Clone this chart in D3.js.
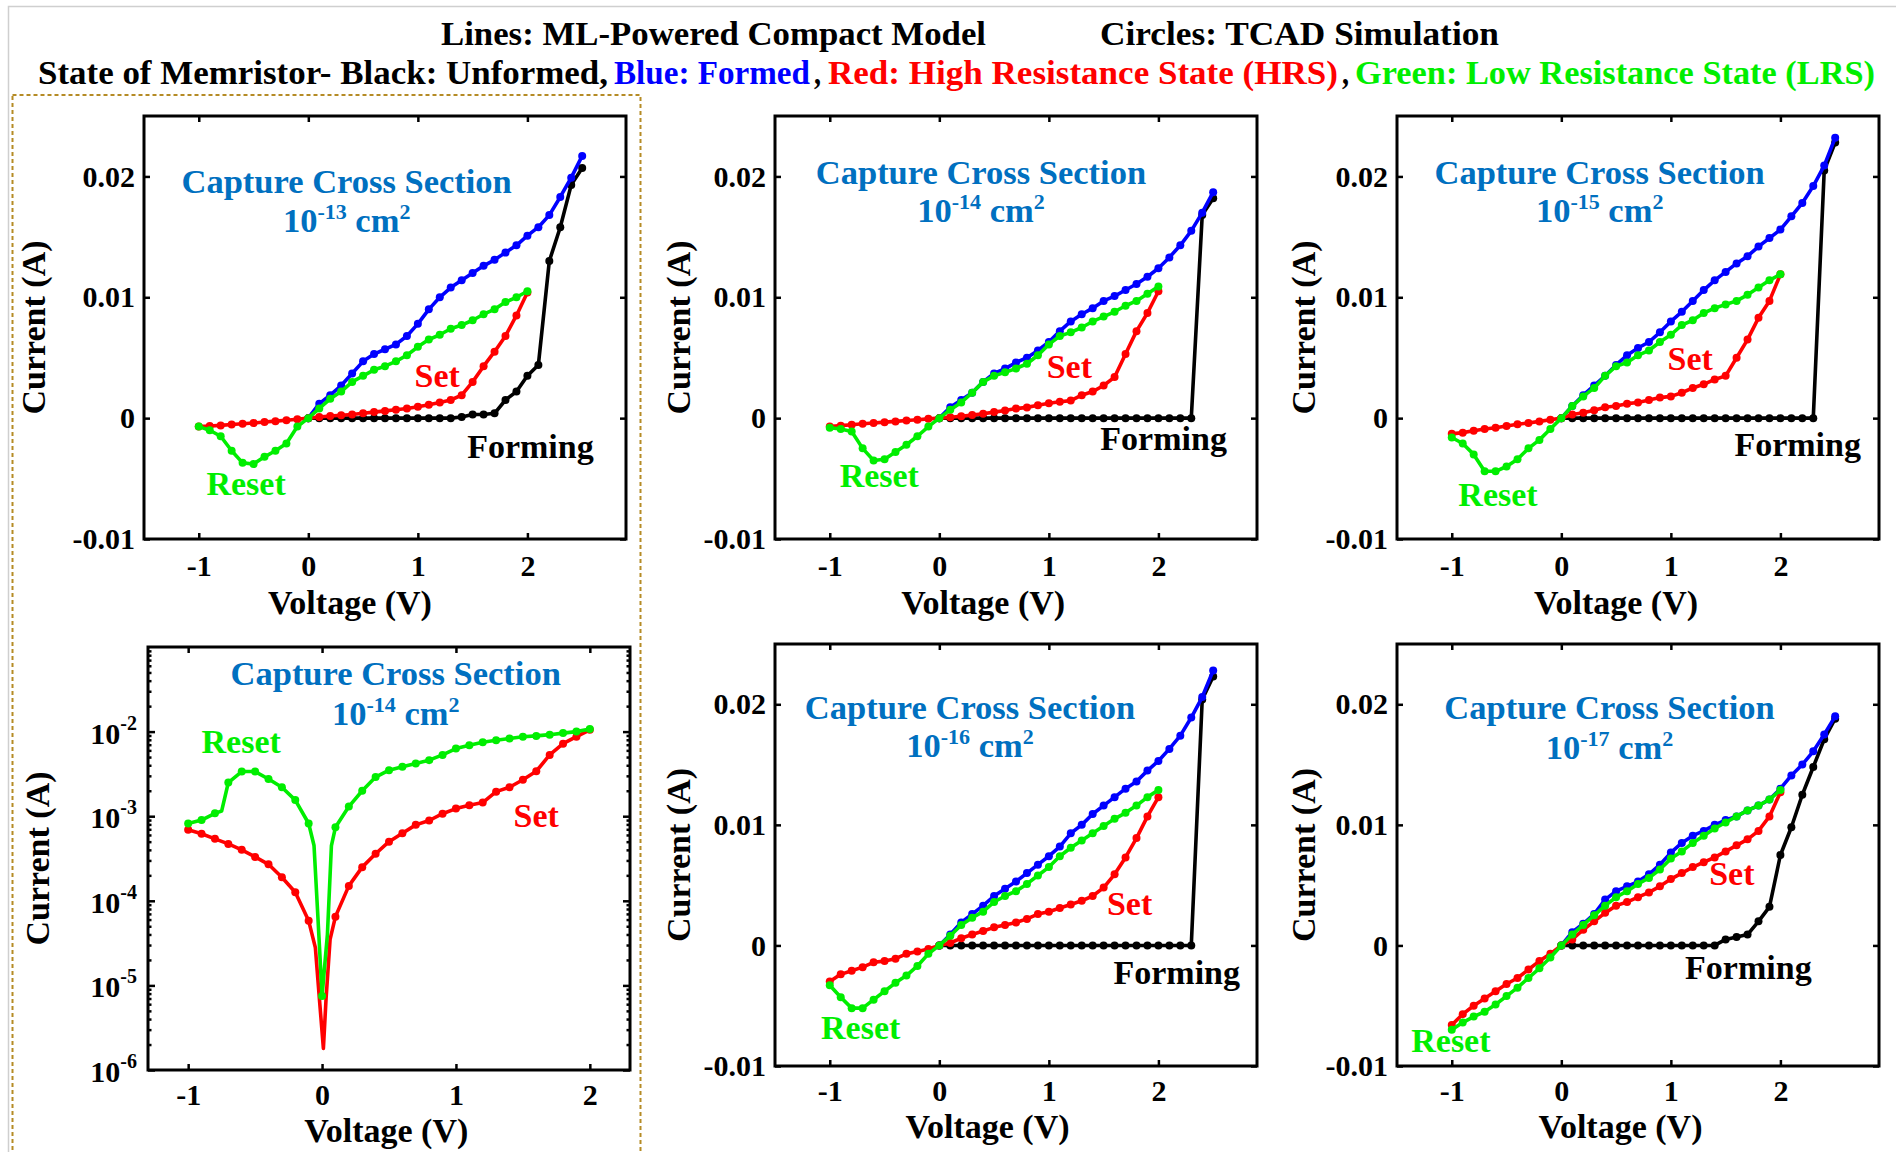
<!DOCTYPE html>
<html>
<head>
<meta charset="utf-8">
<script src="https://cdn.jsdelivr.net/npm/d3@7"></script>
<style>
  body { margin: 0; background: #fff; }
  text { font-family: "Liberation Serif", "Times New Roman", serif; font-weight: bold; }
</style>
</head>
<body>
<svg id="chart" width="1896" height="1152"></svg>
<script>
// ---- sweep voltages (V) ----
const vForm  = [0, 0.1, 0.2, 0.3, 0.4, 0.5, 0.6, 0.7, 0.8, 0.9, 1.0, 1.1, 1.2, 1.3, 1.4, 1.5, 1.6, 1.7, 1.8, 1.9, 2.0, 2.1, 2.2, 2.3, 2.4, 2.5];
const vReset = [2.0, 1.9, 1.8, 1.7, 1.6, 1.5, 1.4, 1.3, 1.2, 1.1, 1.0, 0.9, 0.8, 0.7, 0.6, 0.5, 0.4, 0.3, 0.2, 0.1, 0, -0.1, -0.2, -0.3, -0.4, -0.5, -0.6, -0.7, -0.8, -0.9, -1.0];
const vSet   = [-1.0, -0.9, -0.8, -0.7, -0.6, -0.5, -0.4, -0.3, -0.2, -0.1, 0, 0.1, 0.2, 0.3, 0.4, 0.5, 0.6, 0.7, 0.8, 0.9, 1.0, 1.1, 1.2, 1.3, 1.4, 1.5, 1.6, 1.7, 1.8, 1.9, 2.0];

// ---- currents (A), capture cross section 1e-13 cm2 ----
const form13   = [0, 0, 0, 0, 0, 0, 0, 0, 0, 0, 0, 0, 0, 0, 0.0001, 0.0003, 0.0003, 0.0004, 0.0015, 0.0022, 0.0035, 0.0044, 0.013, 0.0158, 0.0193, 0.0207];
const formed13 = [0, 0.0012, 0.0019, 0.0027, 0.0037, 0.0047, 0.0053, 0.0057, 0.0061, 0.0068, 0.0078, 0.009, 0.01, 0.0108, 0.0114, 0.012, 0.0126, 0.0131, 0.0137, 0.0143, 0.0151, 0.0158, 0.0168, 0.0183, 0.0199, 0.0217];
const reset13  = [0.0105, 0.01, 0.0096, 0.009, 0.0086, 0.0081, 0.0077, 0.0074, 0.0069, 0.0065, 0.0059, 0.0052, 0.0047, 0.0043, 0.004, 0.0035, 0.003, 0.0022, 0.0016, 0.0008, 0, -0.0007, -0.0021, -0.0027, -0.0032, -0.0038, -0.0037, -0.0027, -0.0015, -0.001, -0.0007];
const set13    = [-0.0007, -0.00065, -0.0006, -0.00053, -0.00047, -0.0004, -0.00032, -0.00025, -0.00017, -0.00009, 0, 0.0001, 0.00018, 0.00024, 0.0003, 0.0004, 0.0005, 0.0006, 0.0007, 0.0008, 0.00095, 0.0011, 0.0013, 0.0015, 0.0019, 0.003, 0.0043, 0.0055, 0.0068, 0.0085, 0.0104];

// ---- 1e-14 cm2 ----
const form14   = [0, 0, 0, 0, 0, 0, 0, 0, 0, 0, 0, 0, 0, 0, 0, 0, 0, 0, 0, 0, 0, 0, 0, 0, 0.0168, 0.0182];
const formed14 = [0, 0.0009, 0.0015, 0.0021, 0.003, 0.0037, 0.0041, 0.0046, 0.005, 0.0056, 0.0063, 0.0072, 0.008, 0.0086, 0.0091, 0.0097, 0.0101, 0.0106, 0.0111, 0.0117, 0.0124, 0.0133, 0.0143, 0.0155, 0.017, 0.0187];
const reset14  = [0.0109, 0.0103, 0.0097, 0.0093, 0.0088, 0.0084, 0.008, 0.0075, 0.0071, 0.0068, 0.0061, 0.0052, 0.0045, 0.0041, 0.0038, 0.0035, 0.003, 0.0021, 0.0013, 0.0007, 0, -0.0007, -0.0015, -0.0022, -0.0028, -0.0034, -0.0035, -0.0025, -0.0011, -0.0009, -0.0008];
const set14    = [-0.0007, -0.00062, -0.00054, -0.00047, -0.0004, -0.00033, -0.00027, -0.00019, -0.00013, -0.00006, 0, 0.00007, 0.00015, 0.00025, 0.00036, 0.0005, 0.00063, 0.00079, 0.00089, 0.00107, 0.00123, 0.00135, 0.00145, 0.0019, 0.0022, 0.0027, 0.0034, 0.0053, 0.0072, 0.0087, 0.0105];

// ---- 1e-14 cm2, |I| on log axis (finer steps near 0 V) ----
const vLogReset = [2.0, 1.9, 1.8, 1.7, 1.6, 1.5, 1.4, 1.3, 1.2, 1.1, 1.0, 0.9, 0.8, 0.7, 0.6, 0.5, 0.4, 0.3, 0.2, 0.1, 0.07, 0.04, 0, -0.03, -0.06, -0.1, -0.2, -0.3, -0.4, -0.5, -0.6, -0.7, -0.75, -0.8, -0.9, -1.0];
const iLogReset = [1.07e-2, 1.0e-2, 9.6e-3, 9.2e-3, 8.9e-3, 8.7e-3, 8.3e-3, 7.9e-3, 7.5e-3, 6.9e-3, 6.3e-3, 5.3e-3, 4.6e-3, 4.2e-3, 3.85e-3, 3.5e-3, 2.9e-3, 2.0e-3, 1.3e-3, 7.4e-4, 4.5e-4, 4e-5, 7.5e-6, 6e-5, 4.5e-4, 8.2e-4, 1.55e-3, 2.2e-3, 2.75e-3, 3.37e-3, 3.37e-3, 2.5e-3, 1.15e-3, 1.08e-3, 9e-4, 8.2e-4];
const vLogSet   = [-1.0, -0.9, -0.8, -0.7, -0.6, -0.5, -0.4, -0.3, -0.2, -0.1, -0.05, -0.02, 0.01, 0.03, 0.06, 0.1, 0.2, 0.3, 0.4, 0.5, 0.6, 0.7, 0.8, 0.9, 1.0, 1.1, 1.2, 1.3, 1.4, 1.5, 1.6, 1.7, 1.8, 1.9, 2.0];
const iLogSet   = [6.9e-4, 6.2e-4, 5.4e-4, 4.7e-4, 4.0e-4, 3.3e-4, 2.7e-4, 1.9e-4, 1.26e-4, 5.8e-5, 2.8e-5, 7e-6, 1.8e-6, 7e-6, 3.5e-5, 6.5e-5, 1.5e-4, 2.5e-4, 3.6e-4, 5e-4, 6.3e-4, 7.9e-4, 8.9e-4, 1.07e-3, 1.23e-3, 1.35e-3, 1.45e-3, 1.95e-3, 2.2e-3, 2.7e-3, 3.4e-3, 5.3e-3, 7.2e-3, 8.7e-3, 1.05e-2];

// ---- 1e-15 cm2 ----
const form15   = [0, 0, 0, 0, 0, 0, 0, 0, 0, 0, 0, 0, 0, 0, 0, 0, 0, 0, 0, 0, 0, 0, 0, 0, 0.0205, 0.0228];
const formed15 = [0, 0.001, 0.0019, 0.0027, 0.0035, 0.0044, 0.0052, 0.0058, 0.0063, 0.0071, 0.008, 0.0088, 0.0097, 0.0106, 0.0114, 0.0121, 0.0128, 0.0134, 0.0142, 0.0149, 0.0156, 0.0167, 0.0178, 0.0192, 0.0209, 0.0232];
const reset15  = [0.0119, 0.0114, 0.0108, 0.0102, 0.0097, 0.0094, 0.0091, 0.0087, 0.0081, 0.0077, 0.0069, 0.0063, 0.0056, 0.0052, 0.0046, 0.0043, 0.0035, 0.0025, 0.0018, 0.001, 0, -0.0009, -0.0018, -0.0025, -0.0034, -0.004, -0.0044, -0.0044, -0.003, -0.0021, -0.0016];
const set15    = [-0.0013, -0.0012, -0.00105, -0.0009, -0.0008, -0.00065, -0.0005, -0.0004, -0.00027, -0.00013, 0, 0.0003, 0.00044, 0.00065, 0.0009, 0.001, 0.0012, 0.0013, 0.0015, 0.0017, 0.0018, 0.0021, 0.0025, 0.0028, 0.0032, 0.0035, 0.005, 0.0065, 0.0083, 0.0097, 0.0119];

// ---- 1e-16 cm2 ----
const form16   = [0, 0, 0, 0, 0, 0, 0, 0, 0, 0, 0, 0, 0, 0, 0, 0, 0, 0, 0, 0, 0, 0, 0, 0, 0.0204, 0.0223];
const formed16 = [0, 0.0009, 0.0019, 0.0026, 0.0033, 0.0041, 0.0047, 0.0053, 0.006, 0.0067, 0.0074, 0.0082, 0.0093, 0.01, 0.0109, 0.0116, 0.0123, 0.013, 0.0136, 0.0145, 0.0153, 0.0163, 0.0174, 0.0189, 0.0206, 0.0228];
const reset16  = [0.0129, 0.0123, 0.0116, 0.011, 0.0105, 0.0099, 0.0093, 0.0087, 0.0081, 0.0074, 0.0065, 0.0058, 0.0051, 0.0045, 0.0041, 0.0036, 0.0028, 0.0023, 0.0017, 0.0008, 0, -0.0007, -0.0017, -0.0025, -0.0031, -0.0038, -0.0045, -0.0052, -0.0052, -0.0043, -0.0033];
const set16    = [-0.003, -0.0024, -0.0021, -0.0018, -0.0014, -0.0013, -0.0011, -0.0007, -0.0005, -0.0003, 0, 0.0002, 0.0006, 0.0009, 0.0012, 0.0015, 0.0017, 0.0019, 0.0022, 0.0026, 0.0028, 0.0031, 0.0034, 0.0037, 0.0041, 0.0048, 0.0059, 0.0073, 0.0089, 0.0107, 0.0123];

// ---- 1e-17 cm2 ----
const form17   = [0, 0, 0, 0, 0, 0, 0, 0, 0, 0, 0, 0, 0, 0, 0, 0.0005, 0.0007, 0.0009, 0.002, 0.0032, 0.0075, 0.0098, 0.0125, 0.0148, 0.0171, 0.0188];
const formed17 = [0, 0.0011, 0.0018, 0.0026, 0.0038, 0.0045, 0.0049, 0.0053, 0.0059, 0.0067, 0.0077, 0.0085, 0.0091, 0.0095, 0.01, 0.0104, 0.0107, 0.0112, 0.0116, 0.0121, 0.013, 0.0141, 0.015, 0.0161, 0.0175, 0.019];
const reset17  = [0.0129, 0.0121, 0.0116, 0.0112, 0.0107, 0.0102, 0.0097, 0.0091, 0.0085, 0.0078, 0.0072, 0.0063, 0.0056, 0.0051, 0.0045, 0.004, 0.0033, 0.0025, 0.0017, 0.0009, 0, -0.001, -0.0019, -0.0027, -0.0035, -0.0042, -0.0049, -0.0055, -0.0059, -0.0064, -0.007];
const set17    = [-0.0066, -0.0057, -0.005, -0.0044, -0.0038, -0.0032, -0.0027, -0.002, -0.0013, -0.0007, 0, 0.0005, 0.0013, 0.002, 0.0027, 0.0033, 0.0036, 0.004, 0.0044, 0.0049, 0.0055, 0.006, 0.0065, 0.0069, 0.0073, 0.0078, 0.0083, 0.0088, 0.0095, 0.0107, 0.0127];

// ---- ticks ----
const xTickVals = [-1, 0, 1, 2];
const xTickText = ["-1", "0", "1", "2"];
const yTickVals = [-0.01, 0, 0.01, 0.02];
const yTickText = ["-0.01", "0", "0.01", "0.02"];
const logTickVals = [1e-6, 1e-5, 1e-4, 1e-3, 1e-2];
const logTickExp  = ["-6", "-5", "-4", "-3", "-2"];

const colors = { form: "#000000", formed: "#0000ff", set: "#ff0000", reset: "#00ee00" };
const W = 482;

// panel layout: box position, and text anchors in data units
const panels = [
  { left: 144, top: 116, height: 423, col: 0, row: 0, expo: "-13",
    form: form13, formed: formed13, reset: reset13, set: set13,
    ccs: [0.35, 0.0186, 0.0154], xTitle: 0.38,
    notes: [["Set", 0.97, 0.0026, "set"], ["Forming", 1.45, -0.0033, "form"], ["Reset", -0.93, -0.0064, "reset"]] },
  { left: 775, top: 116, height: 423, col: 1, row: 0, expo: "-14",
    form: form14, formed: formed14, reset: reset14, set: set14,
    ccs: [0.38, 0.0194, 0.0162], xTitle: 0.40,
    notes: [["Set", 0.98, 0.0033, "set"], ["Forming", 1.47, -0.0026, "form"], ["Reset", -0.91, -0.0057, "reset"]] },
  { left: 1397, top: 116, height: 423, col: 2, row: 0, expo: "-15",
    form: form15, formed: formed15, reset: reset15, set: set15,
    ccs: [0.35, 0.0194, 0.0162], xTitle: 0.50,
    notes: [["Set", 0.97, 0.004, "set"], ["Forming", 1.58, -0.0031, "form"], ["Reset", -0.94, -0.0073, "reset"]] },
  { left: 148, top: 647, height: 423, col: 0, row: 1, expo: "-14", log: true,
    ccs: [0.55, 3.56e-2, 1.2e-2], xTitle: 0.48,
    notes: [["Reset", -0.9, 5.6e-3, "reset"], ["Set", 1.43, 7.4e-4, "set"]] },
  { left: 775, top: 644, height: 422, col: 1, row: 1, expo: "-16",
    form: form16, formed: formed16, reset: reset16, set: set16,
    ccs: [0.28, 0.0188, 0.0156], xTitle: 0.44,
    notes: [["Set", 1.53, 0.0025, "set"], ["Forming", 1.59, -0.0032, "form"], ["Reset", -1.08, -0.0078, "reset"]] },
  { left: 1397, top: 644, height: 422, col: 2, row: 1, expo: "-17",
    form: form17, formed: formed17, reset: reset17, set: set17,
    ccs: [0.44, 0.0188, 0.0155], xTitle: 0.54,
    notes: [["Set", 1.35, 0.005, "set"], ["Forming", 1.13, -0.0028, "form"], ["Reset", -1.37, -0.0088, "reset"]] }
];
const yTitleOffset = [99, 85, 82];

const svg = d3.select("#chart");

// screenshot frame and dashed box around the left column
svg.append("path").attr("d", "M8.5,1152 V6.5 H1896").attr("fill", "none")
  .attr("stroke", "#cfcfcf").attr("stroke-width", 1.5);
svg.append("rect").attr("x", 12.5).attr("y", 95).attr("width", 628).attr("height", 1100)
  .attr("fill", "none").attr("stroke", "#b58b25").attr("stroke-width", 2)
  .attr("stroke-dasharray", "4,3");

// ---- header ----
const header = [
  ["Lines: ML-Powered Compact Model", 441, 45, 545, "#000"],
  ["Circles: TCAD Simulation", 1100, 45, 399, "#000"],
  ["State of Memristor- Black: Unformed,", 38, 84, 570, "#000"],
  ["Blue: Formed", 614, 84, 196, "#0000ff"],
  [",", 814, 84, 7, "#000"],
  ["Red: High Resistance State (HRS)", 828, 84, 510, "#ff0000"],
  [",", 1342, 84, 7, "#000"],
  ["Green: Low Resistance State (LRS)", 1355, 84, 520, "#00ee00"]
];
header.forEach(h => {
  svg.append("text").attr("x", h[1]).attr("y", h[2]).attr("font-size", 33)
    .attr("fill", h[4]).attr("textLength", h[3]).attr("lengthAdjust", "spacingAndGlyphs")
    .text(h[0]);
});

function styleAxis(g) {
  g.select(".domain").remove();
  g.attr("font-size", 30).attr("font-family", null);
  g.selectAll(".tick line").attr("stroke", "#000").attr("stroke-width", 2.5);
  g.selectAll(".tick text").attr("fill", "#000");
}

function drawSeries(g, x, y, vs, is, color, dotFilter) {
  const pts = d3.zip(vs, is);
  const line = d3.line().x(d => x(d[0])).y(d => y(d[1]));
  g.append("path").datum(pts).attr("d", line).attr("fill", "none")
    .attr("stroke", color).attr("stroke-width", 3.6).attr("stroke-linejoin", "round");
  g.append("g").selectAll("circle").data(pts.filter(dotFilter)).join("circle")
    .attr("cx", d => x(d[0])).attr("cy", d => y(d[1])).attr("r", 4).attr("fill", color);
}

function ccsText(g, x, y, p) {
  g.append("text").attr("x", x(p.ccs[0])).attr("y", y(p.ccs[1])).attr("text-anchor", "middle")
    .attr("font-size", 34.5).attr("fill", "#0070c0").text("Capture Cross Section");
  const t = g.append("text").attr("x", x(p.ccs[0])).attr("y", y(p.ccs[2])).attr("text-anchor", "middle")
    .attr("font-size", 34.5).attr("fill", "#0070c0");
  t.append("tspan").text("10");
  t.append("tspan").attr("dy", -13).attr("font-size", 22).text(p.expo);
  t.append("tspan").attr("dy", 13).text(" cm");
  t.append("tspan").attr("dy", -13).attr("font-size", 22).text("2");
}

panels.forEach(p => {
  const g = svg.append("g");
  const bottom = p.top + p.height, right = p.left + W;
  const xDom = p.log ? [-1.3, 2.3] : [-1.5, 2.9];
  const x = d3.scaleLinear().domain(xDom).range([p.left, right]);
  const y = p.log
    ? d3.scaleLog().domain([1e-6, 1e-1]).range([bottom, p.top])
    : d3.scaleLinear().domain([-0.01, 0.025]).range([bottom, p.top]);

  // x axes (bottom labelled, top ticks only)
  g.append("g").attr("transform", `translate(0,${bottom})`)
    .call(d3.axisBottom(x).tickValues(xTickVals).tickFormat((d, i) => xTickText[i])
      .tickSize(-6).tickPadding(p.row === 0 ? 16 : 14).tickSizeOuter(0)).call(styleAxis);
  g.append("g").attr("transform", `translate(0,${p.top})`)
    .call(d3.axisTop(x).tickValues(xTickVals).tickFormat("").tickSize(-6).tickSizeOuter(0)).call(styleAxis);

  if (p.log) {
    const minor = y.ticks().filter(v => Math.abs(Math.log10(v) - Math.round(Math.log10(v))) > 1e-6);
    [[d3.axisLeft, p.left], [d3.axisRight, right]].forEach(([ax, pos]) => {
      g.append("g").attr("transform", `translate(${pos},0)`)
        .call(ax(y).tickValues(logTickVals).tickFormat("").tickSize(-7).tickSizeOuter(0)).call(styleAxis);
      g.append("g").attr("transform", `translate(${pos},0)`)
        .call(ax(y).tickValues(minor).tickFormat("").tickSize(-3.5).tickSizeOuter(0)).call(styleAxis);
    });
    logTickVals.forEach((v, i) => {
      const t = g.append("text").attr("x", p.left - 11).attr("y", y(v) + 12)
        .attr("text-anchor", "end").attr("font-size", 30);
      t.append("tspan").text("10");
      t.append("tspan").attr("dy", -14).attr("font-size", 20).text(logTickExp[i]);
    });
  } else {
    g.append("g").attr("transform", `translate(${p.left},0)`)
      .call(d3.axisLeft(y).tickValues(yTickVals).tickFormat((d, i) => yTickText[i])
        .tickSize(-6).tickPadding(9).tickSizeOuter(0)).call(styleAxis);
    g.append("g").attr("transform", `translate(${right},0)`)
      .call(d3.axisRight(y).tickValues(yTickVals).tickFormat("").tickSize(-6).tickSizeOuter(0)).call(styleAxis);
  }

  // frame
  g.append("rect").attr("x", p.left).attr("y", p.top).attr("width", W).attr("height", p.height)
    .attr("fill", "none").attr("stroke", "#000").attr("stroke-width", 3);

  // axis titles
  g.append("text").attr("x", x(p.xTitle)).attr("y", bottom + (p.row === 0 ? 75 : 72))
    .attr("text-anchor", "middle").attr("font-size", 34).text("Voltage (V)");
  g.append("text")
    .attr("transform", `translate(${p.left - yTitleOffset[p.col]},${p.top + p.height / 2}) rotate(-90)`)
    .attr("text-anchor", "middle").attr("font-size", 34).text("Current (A)");

  // curves
  if (p.log) {
    const onGrid = d => Math.abs(d[0] * 10 - Math.round(d[0] * 10)) < 1e-6;
    drawSeries(g, x, y, vLogSet, iLogSet, colors.set, onGrid);
    drawSeries(g, x, y, vLogReset, iLogReset, colors.reset, onGrid);
  } else {
    const all = () => true;
    drawSeries(g, x, y, vForm, p.form, colors.form, all);
    drawSeries(g, x, y, vForm, p.formed, colors.formed, all);
    drawSeries(g, x, y, vSet, p.set, colors.set, all);
    drawSeries(g, x, y, vReset, p.reset, colors.reset, all);
  }

  ccsText(g, x, y, p);
  p.notes.forEach(n => {
    g.append("text").attr("x", x(n[1])).attr("y", y(n[2])).attr("font-size", 34)
      .attr("fill", colors[n[3]]).text(n[0]);
  });
});
</script>
</body>
</html>
